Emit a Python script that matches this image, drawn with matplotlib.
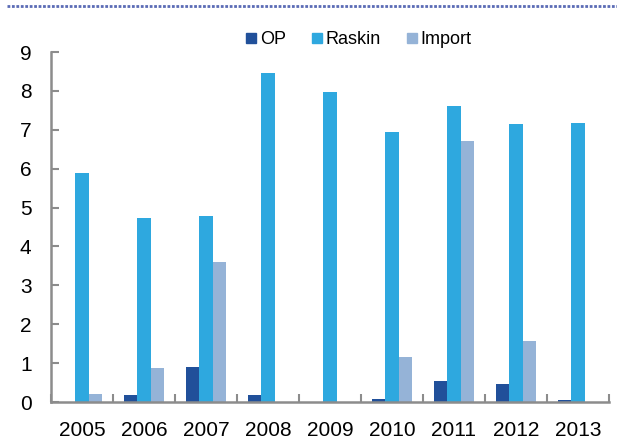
import matplotlib.pyplot as plt
import numpy as np
from matplotlib.lines import Line2D

plt.rcParams['font.family'] = ['Liberation Sans', 'DejaVu Sans']

years = ['2005', '2006', '2007', '2008', '2009', '2010', '2011', '2012', '2013']
op = [0, 0.18, 0.91, 0.19, 0, 0.09, 0.54, 0.46, 0.05]
raskin = [5.88, 4.72, 4.78, 8.47, 7.97, 6.95, 7.62, 7.15, 7.18]
imports = [0.21, 0.87, 3.6, 0, 0, 1.17, 6.7, 1.56, 0]

colors = {'OP': '#21509A', 'Raskin': '#2EA8DF', 'Import': '#95B3D7'}

fig = plt.figure(figsize=(6.17, 4.45), dpi=100)
ax = fig.add_axes([51 / 617, 43 / 445, 558 / 617, 350 / 445])

x = np.arange(len(years))
w = 0.22
ax.bar(x - w, op, w, color=colors['OP'], label='OP')
ax.bar(x, raskin, w, color=colors['Raskin'], label='Raskin')
ax.bar(x + w, imports, w, color=colors['Import'], label='Import')

ax.set_xlim(-0.5, len(years) - 0.5)
ax.set_ylim(0, 9)
ax.set_yticks(range(10))
ax.set_xticks(x)
ax.set_xticklabels(years)
ax.set_xticks(np.arange(-0.5, len(years)), minor=True)

gray = '#8C8C8C'
for s in ['top', 'right']:
    ax.spines[s].set_visible(False)
for s in ['left', 'bottom']:
    ax.spines[s].set_color(gray)
    ax.spines[s].set_linewidth(1.8)

ax.tick_params(axis='y', direction='in', length=6, width=1.5, color=gray,
               labelsize=15, pad=14)
ax.tick_params(axis='x', which='major', length=0, labelsize=15, pad=14)
ax.tick_params(axis='x', which='minor', direction='in', length=6, width=1.5,
               color=gray)

handles = [Line2D([], [], marker='s', linestyle='none', markersize=7.5,
                  color=colors[k]) for k in ['OP', 'Raskin', 'Import']]
ax.legend(handles, ['OP', 'Raskin', 'Import'], ncol=3, loc='center',
          bbox_to_anchor=(0.548, 1.035), frameon=False, fontsize=13,
          handletextpad=0.0, columnspacing=1.2, handlelength=1.0)

# dotted rule at the very top (cropped header)
fig.add_artist(Line2D([0.012, 1.0], [1 - 6 / 445, 1 - 6 / 445],
                      color='#5B6BB5', linestyle=(0, (1, 0.6)), linewidth=2))

fig.savefig('out.png', dpi=100)
